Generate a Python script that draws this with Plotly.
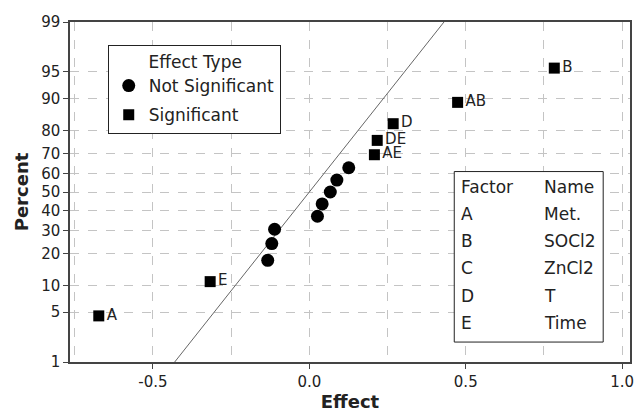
import plotly.graph_objects as go
from statistics import NormalDist

nd = NormalDist()

# ---- data ----
sig_labels = ["A", "E", "AE", "DE", "D", "AB", "B"]
sig_effect = [-0.673, -0.317, 0.208, 0.217, 0.268, 0.474, 0.783]
sig_percent = [4.5, 11.0, 69.5, 76.0, 82.5, 89.0, 95.5]

ns_effect = [-0.133, -0.120, -0.111, 0.026, 0.041, 0.067, 0.088, 0.126]
ns_percent = [17.5, 24.0, 30.5, 37.0, 43.5, 50.0, 56.5, 63.0]

line_mean = 0.0
line_sd = 0.185
line_percent = [1, 99]

y_tick_percent = [1, 5, 10, 20, 30, 40, 50, 60, 70, 80, 90, 95, 99]
x_tick_vals = [-0.5, 0.0, 0.5, 1.0]
x_tick_text = ["-0.5", "0.0", "0.5", "1.0"]

factor_codes = ["A", "B", "C", "D", "E"]
factor_names = ["Met.", "SOCl2", "ZnCl2", "T", "Time"]


def z(p):
    return nd.inv_cdf(p / 100.0)


FONT = "DejaVu Sans"
TXT = "#222222"

fig = go.Figure()

# fitted normal line
line_z = [z(p) for p in line_percent]
fig.add_trace(go.Scatter(
    x=[line_mean + line_sd * v for v in line_z], y=line_z,
    mode="lines", line=dict(color="#666666", width=1), showlegend=False,
    hoverinfo="skip"))

fig.add_trace(go.Scatter(
    x=ns_effect, y=[z(p) for p in ns_percent], mode="markers",
    name="Not Significant", legendgroup="ns",
    marker=dict(symbol="circle", size=13, color="black")))

fig.add_trace(go.Scatter(
    x=sig_effect, y=[z(p) for p in sig_percent], mode="markers",
    name="Significant", legendgroup="s",
    marker=dict(symbol="square", size=11, color="black")))

# labels for significant effects (invisible markers give the text offset)
fig.add_trace(go.Scatter(
    x=sig_effect, y=[z(p) for p in sig_percent], mode="markers+text",
    text=sig_labels, textposition="middle right",
    marker=dict(symbol="square", size=11, color="rgba(0,0,0,0)"),
    textfont=dict(family=FONT, size=15, color=TXT), showlegend=False,
    hoverinfo="skip"))

L, T, R, B = 70, 22, 4, 50
W, H = 638, 413
PW, PH = W - L - R, H - T - B


def px_x(px):
    return (px - L) / PW


def px_y(py):
    return (H - B - py) / PH


grid = "#c4c4c4"
fig.update_layout(
    width=W, height=H,
    margin=dict(l=L, r=R, t=T, b=B),
    paper_bgcolor="white", plot_bgcolor="white",
    font=dict(family=FONT, color=TXT),
    legend=dict(
        title=dict(text="\u00a0" * 7 + "Effect Type",
                   font=dict(family=FONT, size=17, color=TXT)),
        font=dict(family=FONT, size=17, color=TXT),
        x=px_x(108), y=px_y(45), xanchor="left", yanchor="top",
        bordercolor="#222222", borderwidth=1, bgcolor="white",
        traceorder="grouped", tracegroupgap=4,
    ),
    xaxis=dict(
        range=[-0.765, 1.025],
        tickvals=x_tick_vals, ticktext=x_tick_text,
        tickfont=dict(family=FONT, size=15, color=TXT),
        ticks="outside", ticklen=5, tickcolor="#444444",
        showgrid=True, gridcolor=grid, griddash="dash", gridwidth=1,
        minor=dict(dtick=0.25, tick0=0, showgrid=True, gridcolor=grid,
                   griddash="dash", ticks=""),
        zeroline=False, showline=True, mirror=True,
        linecolor="#444444", linewidth=1.5,
        title=dict(text="<b>Effect</b>", standoff=6,
                   font=dict(family=FONT, size=18, color=TXT)),
    ),
    yaxis=dict(
        range=[z(1), z(99)],
        tickvals=[z(p) for p in y_tick_percent],
        ticktext=[str(p) for p in y_tick_percent],
        tickfont=dict(family=FONT, size=15, color=TXT),
        ticks="outside", ticklen=5, tickcolor="#444444",
        showgrid=True, gridcolor=grid, griddash="dash", gridwidth=1,
        zeroline=False, showline=True, mirror=True,
        linecolor="#444444", linewidth=1.5,
        title=dict(text="<b>Percent</b>", standoff=8,
                   font=dict(family=FONT, size=18, color=TXT)),
    ),
)

# factor table box
fig.add_shape(type="rect", xref="paper", yref="paper",
              x0=px_x(457), x1=px_x(607), y0=px_y(343), y1=px_y(172),
              line=dict(color="#222222", width=1), fillcolor="white",
              layer="above")

rows = [("Factor", "Name")] + list(zip(factor_codes, factor_names))
for i, (c, n) in enumerate(rows):
    yy = px_y(187 + 27.4 * i)
    fig.add_annotation(x=px_x(462), y=yy, xref="paper", yref="paper",
                       text=c, showarrow=False, xanchor="left",
                       yanchor="middle",
                       font=dict(family=FONT, size=17, color=TXT))
    fig.add_annotation(x=px_x(545), y=yy, xref="paper", yref="paper",
                       text=n, showarrow=False, xanchor="left",
                       yanchor="middle",
                       font=dict(family=FONT, size=17, color=TXT))

fig.write_html("out.html")
